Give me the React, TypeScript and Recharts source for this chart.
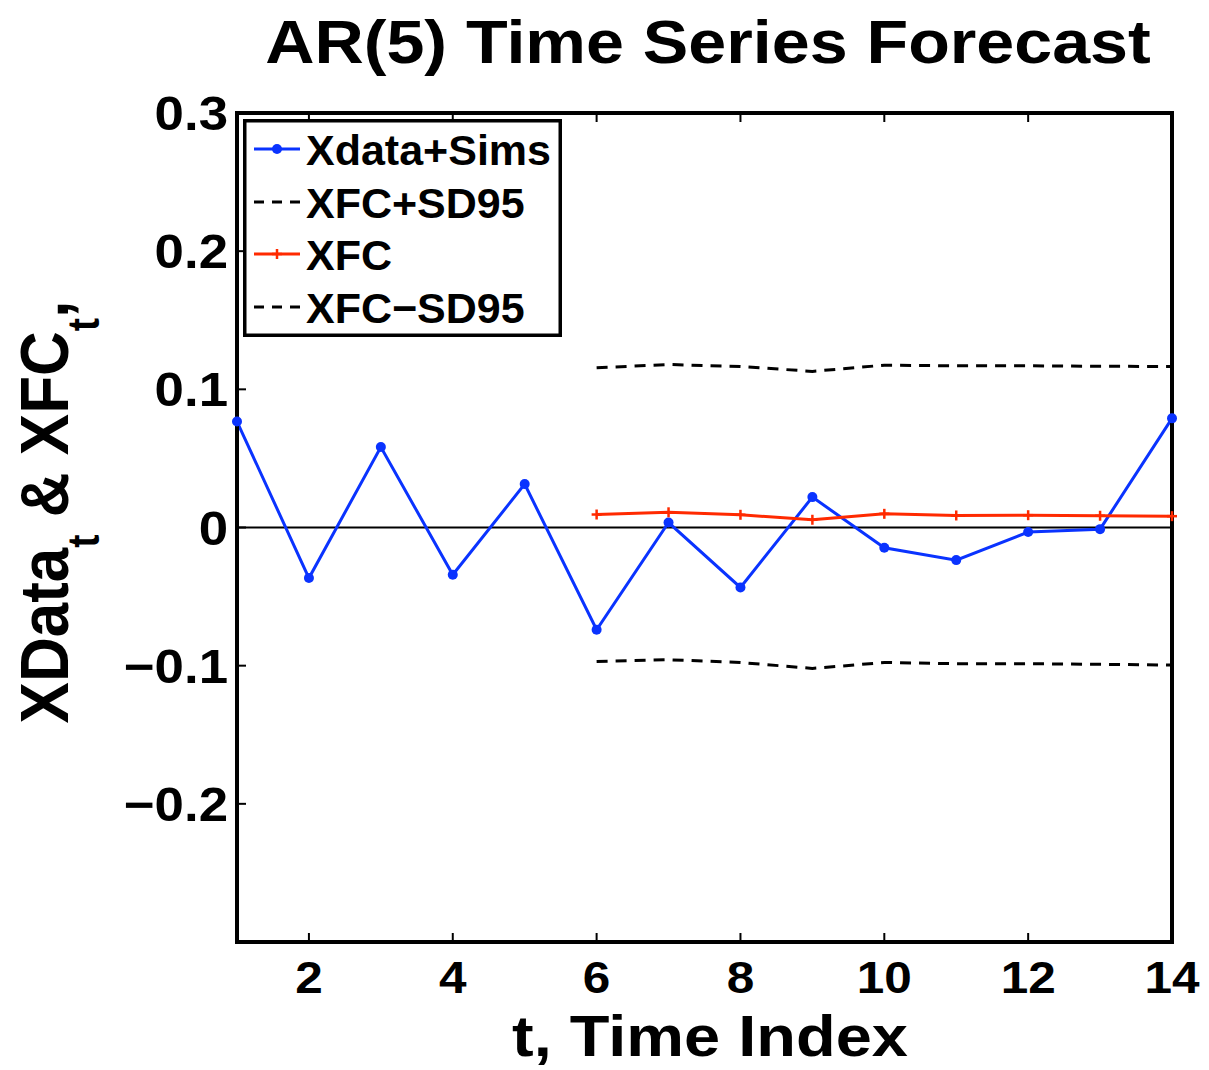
import { Legend, Line, LineChart, ReferenceLine, XAxis, YAxis } from "recharts";

const FONT = "'Liberation Sans', Arial, Helvetica, sans-serif";

const timeIndex = [1, 2, 3, 4, 5, 6, 7, 8, 9, 10, 11, 12, 13, 14];
const xdataSims = [
  0.0767, -0.0366, 0.0582, -0.0342, 0.0314, -0.074, 0.0036, -0.0434, 0.022, -0.0147, -0.0236, -0.0033, -0.0012,
  0.079,
];
const xfc = [null, null, null, null, null, 0.0094, 0.011, 0.0092, 0.0056, 0.0099, 0.0087, 0.0089, 0.0085, 0.0082];
const xfcPlusSd95 = [null, null, null, null, null, 0.1156, 0.118, 0.1165, 0.113, 0.1175, 0.117, 0.117, 0.1167, 0.1165];
const xfcMinusSd95 = [
  null, null, null, null, null, -0.097, -0.0957, -0.0977, -0.102, -0.0977, -0.0986, -0.0986, -0.099, -0.0996,
];

const xTicks = [2, 4, 6, 8, 10, 12, 14];
const yTicks = [-0.2, -0.1, 0, 0.1, 0.2, 0.3];
const yTickLabels = ["\u22120.2", "\u22120.1", "0", "0.1", "0.2", "0.3"];
const legendLabels = ["Xdata+Sims", "XFC+SD95", "XFC", "XFC\u2212SD95"];

const BLUE = "#0a33ff";
const RED = "#ff2a00";

const data = timeIndex.map((t, i) => ({
  t,
  xdata: xdataSims[i],
  xfc: xfc[i],
  hi: xfcPlusSd95[i],
  lo: xfcMinusSd95[i],
}));

function XTick({ x, y, payload }: any) {
  return (
    <g transform={`translate(${x},${y}) scale(1.1,1)`}>
      <text x={0} y={0} dy="0.71em" textAnchor="middle" fontSize={45} fontWeight="bold" fontFamily={FONT} fill="#000">
        {payload.value}
      </text>
    </g>
  );
}

function YTick({ x, y, payload }: any) {
  const idx = yTicks.findIndex((v) => Math.abs(v - payload.value) < 1e-9);
  return (
    <g transform={`translate(${x},${y}) scale(1.1,1)`}>
      <text x={0} y={0} dy="0.355em" textAnchor="end" fontSize={48} fontWeight="bold" fontFamily={FONT} fill="#000">
        {idx >= 0 ? yTickLabels[idx] : ""}
      </text>
    </g>
  );
}

function NoTick() {
  return <g />;
}

function PlusDot({ cx, cy }: any) {
  if (cx == null || cy == null || Number.isNaN(cy)) return <g />;
  return (
    <g stroke={RED} strokeWidth={2.5}>
      <line x1={cx - 5} y1={cy} x2={cx + 5} y2={cy} />
      <line x1={cx} y1={cy - 5} x2={cx} y2={cy + 5} />
    </g>
  );
}

function LegendBox() {
  const rows = [30, 83, 135, 188];
  return (
    <svg width={319} height={218} style={{ display: "block" }}>
      <rect x={1.75} y={1.75} width={315.5} height={214.5} fill="#fff" stroke="#000" strokeWidth={3.5} />
      {legendLabels.map((label, i) => {
        const ly = rows[i];
        return (
          <g key={label}>
            {i === 0 && (
              <>
                <line x1={11} y1={ly} x2={57} y2={ly} stroke={BLUE} strokeWidth={3} />
                <circle cx={34} cy={ly} r={5} fill={BLUE} />
              </>
            )}
            {i === 2 && (
              <>
                <line x1={11} y1={ly} x2={57} y2={ly} stroke={RED} strokeWidth={3} />
                <line x1={29} y1={ly} x2={39} y2={ly} stroke={RED} strokeWidth={2.5} />
                <line x1={34} y1={ly - 5} x2={34} y2={ly + 5} stroke={RED} strokeWidth={2.5} />
              </>
            )}
            {(i === 1 || i === 3) && (
              <line x1={11} y1={ly} x2={57} y2={ly} stroke="#000" strokeWidth={3} strokeDasharray="10 8" />
            )}
            <text x={63} y={ly + 16} fontSize={43} fontWeight="bold" fontFamily={FONT} fill="#000">
              {label}
            </text>
          </g>
        );
      })}
    </svg>
  );
}

export default function App() {
  const axisLine = { stroke: "#000", strokeWidth: 4, strokeLinecap: "square" as const };
  const tickLine = { stroke: "#000", strokeWidth: 2 };
  return (
    <div style={{ position: "absolute", left: 0, top: 0, width: 1209, height: 1070, background: "#fff" }}>
      <LineChart width={1209} height={1070} data={data} margin={{ top: 103, right: 27, bottom: 48, left: 137 }}>
        <XAxis
          dataKey="t"
          type="number"
          domain={[1, 14]}
          ticks={xTicks}
          height={80}
          axisLine={axisLine}
          tickLine={tickLine}
          tickSize={-9}
          tickMargin={28}
          tick={<XTick />}
          interval={0}
        />
        <XAxis
          xAxisId="top"
          orientation="top"
          dataKey="t"
          type="number"
          domain={[1, 14]}
          ticks={xTicks}
          height={10}
          axisLine={axisLine}
          tickLine={tickLine}
          tickSize={-9}
          tick={<NoTick />}
          interval={0}
        />
        <YAxis
          type="number"
          domain={[-0.3, 0.3]}
          ticks={yTicks}
          width={100}
          axisLine={axisLine}
          tickLine={tickLine}
          tickSize={-9}
          tickMargin={18}
          tick={<YTick />}
          interval={0}
        />
        <YAxis
          yAxisId="right"
          orientation="right"
          type="number"
          domain={[-0.3, 0.3]}
          ticks={yTicks}
          width={10}
          axisLine={axisLine}
          tickLine={tickLine}
          tickSize={-9}
          tick={<NoTick />}
          interval={0}
        />
        <ReferenceLine y={0} stroke="#000" strokeWidth={2} />
        <Line
          dataKey="hi"
          stroke="#000"
          strokeWidth={3}
          strokeDasharray="11 8"
          dot={false}
          activeDot={false}
          isAnimationActive={false}
        />
        <Line
          dataKey="lo"
          stroke="#000"
          strokeWidth={3}
          strokeDasharray="11 8"
          dot={false}
          activeDot={false}
          isAnimationActive={false}
        />
        <Line
          dataKey="xdata"
          stroke={BLUE}
          strokeWidth={3}
          dot={{ r: 5, fill: BLUE, stroke: BLUE, strokeWidth: 0 }}
          activeDot={false}
          isAnimationActive={false}
        />
        <Line
          dataKey="xfc"
          stroke={RED}
          strokeWidth={3}
          dot={<PlusDot />}
          activeDot={false}
          isAnimationActive={false}
        />
        <Legend
          layout="vertical"
          align="center"
          verticalAlign="middle"
          content={() => <LegendBox />}
          wrapperStyle={{ position: "absolute", left: 243, top: 119, width: 319, height: 218 }}
        />
      </LineChart>
      <svg
        width={1209}
        height={1070}
        style={{ position: "absolute", left: 0, top: 0, pointerEvents: "none" }}
        fontFamily={FONT}
        fontWeight="bold"
      >
        <text transform="translate(708,63) scale(1.1,1)" textAnchor="middle" fontSize={62} fill="#000">
          AR(5) Time Series Forecast
        </text>
        <text transform="translate(710,1056) scale(1.12,1)" textAnchor="middle" fontSize={58} fill="#000">
          t, Time Index
        </text>
        <text transform="translate(68,512) scale(1.12,1) rotate(-90)" textAnchor="middle" fontSize={62} fill="#000">
          XData
          <tspan fontSize={40} dy={28}>
            t
          </tspan>
          <tspan dy={-28}> &amp; XFC</tspan>
          <tspan fontSize={40} dy={28}>
            t
          </tspan>
          <tspan dy={-28}>,</tspan>
        </text>
      </svg>
    </div>
  );
}
